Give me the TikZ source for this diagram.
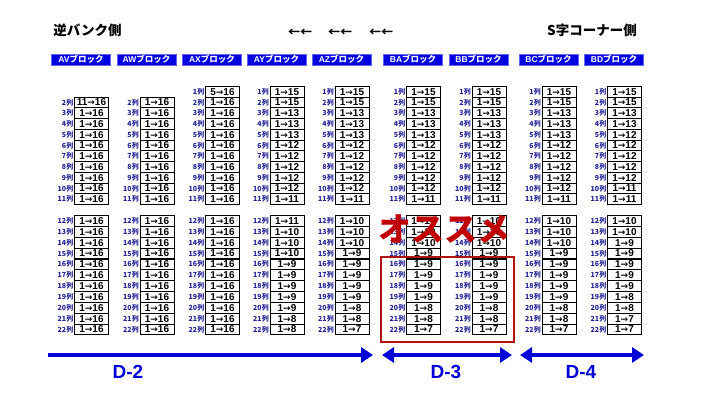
\documentclass[tikz,border=0pt]{standalone}
\usepackage{fontspec}
\setmainfont{Liberation Sans}
\newfontfamily\cjk{Noto Sans CJK JP}
\newfontfamily\cjkblack{Noto Sans CJK JP Black}
\newfontfamily\arrfont{DejaVu Sans}
\usetikzlibrary{arrows.meta}
\definecolor{blkblue}{RGB}{0,0,225}
\definecolor{lblnavy}{RGB}{35,35,150}
\definecolor{darrow}{RGB}{0,0,215}
\definecolor{osred}{RGB}{192,0,0}
\definecolor{boxred}{RGB}{175,20,20}

\def\allsixteen{2/1/16,3/1/16,4/1/16,5/1/16,6/1/16,7/1/16,8/1/16,9/1/16,10/1/16,11/1/16,12/1/16,13/1/16,14/1/16,15/1/16,16/1/16,17/1/16,18/1/16,19/1/16,20/1/16,21/1/16,22/1/16}
\def\listAV{2/11/16,3/1/16,4/1/16,5/1/16,6/1/16,7/1/16,8/1/16,9/1/16,10/1/16,11/1/16,12/1/16,13/1/16,14/1/16,15/1/16,16/1/16,17/1/16,18/1/16,19/1/16,20/1/16,21/1/16,22/1/16}
\def\listAX{1/5/16,2/1/16,3/1/16,4/1/16,5/1/16,6/1/16,7/1/16,8/1/16,9/1/16,10/1/16,11/1/16,12/1/16,13/1/16,14/1/16,15/1/16,16/1/16,17/1/16,18/1/16,19/1/16,20/1/16,21/1/16,22/1/16}
\def\listAY{1/1/15,2/1/15,3/1/13,4/1/13,5/1/13,6/1/12,7/1/12,8/1/12,9/1/12,10/1/12,11/1/11,12/1/11,13/1/10,14/1/10,15/1/10,16/1/9,17/1/9,18/1/9,19/1/9,20/1/9,21/1/8,22/1/8}
\def\listAZ{1/1/15,2/1/15,3/1/13,4/1/13,5/1/13,6/1/12,7/1/12,8/1/12,9/1/12,10/1/12,11/1/11,12/1/10,13/1/10,14/1/10,15/1/9,16/1/9,17/1/9,18/1/9,19/1/9,20/1/8,21/1/8,22/1/7}
\def\listBD{1/1/15,2/1/15,3/1/13,4/1/13,5/1/12,6/1/12,7/1/12,8/1/12,9/1/12,10/1/11,11/1/11,12/1/10,13/1/10,14/1/9,15/1/9,16/1/9,17/1/9,18/1/9,19/1/8,20/1/8,21/1/7,22/1/7}

\tikzset{
  blk/.style={fill=blkblue, draw=blkblue!60, line width=0.4pt, text=white, minimum width=59pt, minimum height=11pt, inner sep=0pt, font=\bfseries\fontsize{8.5}{8.5}\selectfont},
  cell/.style={draw=black, line width=0.9pt, fill=white, minimum width=34pt, minimum height=10.75pt, inner sep=0pt, font=\bfseries\fontsize{10}{10}\selectfont},
  rowlab/.style={anchor=east, inner sep=0.6pt, text=lblnavy, font=\cjk\bfseries\fontsize{7}{7}\selectfont},
  ttl/.style={font=\cjk\bfseries\fontsize{13.5}{13.5}\selectfont},
  larr/.style={font=\cjk\bfseries\fontsize{12}{12}\selectfont},
  darr/.style={draw=darrow, line width=4pt},
  dlab/.style={text=darrow, font=\bfseries\fontsize{19}{19}\selectfont},
}

\newcommand\seatcol[3]{%
  \node[blk] (#1) at (#2+6.5,59.7) {#1{\cjk ブロック}};
  \foreach \r/\a/\b in #3 {
    \pgfmathsetmacro\yy{\r<12 ? 91.7+(\r-1)*10.75 : 221+(\r-12)*10.85}
    \node[cell] (#1-\r) at (#2+17,\yy) {\a{\arrfont\bfseries\fontsize{9}{9}\selectfont →}\b};
    \node[rowlab] (#1-\r-l) at (#1-\r.west) {\r{\cjk 列}};
  }
}

\begin{document}
\begin{tikzpicture}[x=1pt,y=-1pt]
\useasboundingbox (0,0) rectangle (720,405);

\node[ttl] (lefttitle) at (87.5,30) {逆バンク側};
\node[ttl] (righttitle) at (592,30) {S字コーナー側};
\node[larr] (la1) at (300,33) {←←};
\node[larr] (la2) at (340,33) {←←};
\node[larr] (la3) at (381,33) {←←};

\seatcol{AV}{74.5}{\listAV}
\seatcol{AW}{140}{\allsixteen}
\seatcol{AX}{205.5}{\listAX}
\seatcol{AY}{270}{\listAY}
\seatcol{AZ}{335}{\listAZ}
\seatcol{BA}{406.5}{\listAZ}
\seatcol{BB}{472}{\listAZ}
\seatcol{BC}{542}{\listAZ}
\seatcol{BD}{607.5}{\listBD}

\node[draw=boxred, line width=2pt, minimum width=133pt, minimum height=85pt, inner sep=0pt] (pick) at (447.5,299.5) {};
\node[text=osred, font=\cjkblack\fontsize{33}{33}\selectfont] (osusume) at (444,229) {オススメ};

\coordinate (d2a) at (48,355);
\coordinate (d2b) at (373,355);
\coordinate (d3a) at (382,355);
\coordinate (d3b) at (512,355);
\coordinate (d4a) at (520,355);
\coordinate (d4b) at (644,355);
\draw[darr,-{Triangle[length=12pt,width=15pt]}] (d2a) -- (d2b);
\draw[darr,{Triangle[length=12pt,width=15pt]}-{Triangle[length=12pt,width=15pt]}] (d3a) -- (d3b);
\draw[darr,{Triangle[length=12pt,width=15pt]}-{Triangle[length=12pt,width=15pt]}] (d4a) -- (d4b);
\node[dlab] (d2) at (128,372) {D-2};
\node[dlab] (d3) at (446,372) {D-3};
\node[dlab] (d4) at (581,372) {D-4};
\end{tikzpicture}
\end{document}
